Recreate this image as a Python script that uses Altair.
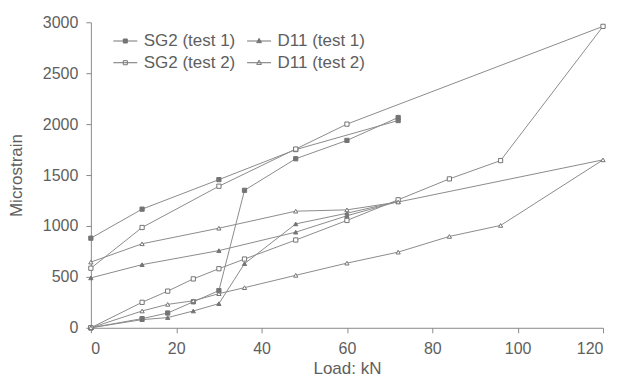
import altair as alt
import pandas as pd

# ---- data (loading then unloading order) ----
names = ["SG2 (test 1)", "SG2 (test 2)", "D11 (test 1)", "D11 (test 2)"]

sg2_t1_load = [0, 12, 18, 24, 30, 36, 48, 60, 72, 72, 48, 30, 12, 0]
sg2_t1_strain = [0, 90, 145, 255, 365, 1350, 1660, 1840, 2065, 2035, 1750, 1455, 1165, 880]

d11_t1_load = [0, 12, 18, 24, 30, 36, 48, 60, 72, 60, 48, 30, 12, 0]
d11_t1_strain = [0, 80, 100, 165, 237, 630, 1020, 1125, 1240, 1100, 939, 758, 620, 490]

sg2_t2_load = [0, 12, 18, 24, 30, 36, 48, 60, 72, 84, 96, 120, 60, 48, 30, 12, 0]
sg2_t2_strain = [0, 250, 360, 480, 580, 675, 862, 1054, 1257, 1462, 1642, 2960, 2000, 1755, 1390, 985, 585]

d11_t2_load = [0, 12, 18, 24, 30, 36, 48, 60, 72, 84, 96, 120, 72, 60, 48, 30, 12, 0]
d11_t2_strain = [0, 165, 230, 265, 335, 394, 515, 635, 743, 897, 1005, 1649, 1235, 1158, 1145, 978, 825, 645]

x_ticks = [0, 20, 40, 60, 80, 100, 120]
y_ticks = [0, 500, 1000, 1500, 2000, 2500, 3000]

rows = []
for name, loads, strains in [
    ("SG2 (test 1)", sg2_t1_load, sg2_t1_strain),
    ("D11 (test 1)", d11_t1_load, d11_t1_strain),
    ("SG2 (test 2)", sg2_t2_load, sg2_t2_strain),
    ("D11 (test 2)", d11_t2_load, d11_t2_strain),
]:
    for i, (l, s) in enumerate(zip(loads, strains)):
        rows.append({"series": name, "load": l, "strain": s, "seq": i})
df = pd.DataFrame(rows)

FONT = "Liberation Sans"
TXT = "#5e5e5e"
LINE = "#8c8c8c"
MARK = "#747474"

x_enc = alt.X("load:Q", scale=alt.Scale(domain=[0, 120], nice=False),
              axis=alt.Axis(values=x_ticks, title="Load: kN", format="d"))
y_enc = alt.Y("strain:Q", scale=alt.Scale(domain=[0, 3000], nice=False),
              axis=alt.Axis(values=y_ticks, title="Microstrain", format="d"))

base = alt.Chart(df)

lines = base.mark_line(color=LINE, strokeWidth=1).encode(
    x=x_enc, y=y_enc, detail="series:N", order="seq:Q"
)

fills = [MARK, "#ffffff", MARK, "#ffffff"]

points = base.mark_point(size=18, strokeWidth=1, opacity=1, color=MARK, filled=False).encode(
    x=x_enc, y=y_enc,
    shape=alt.Shape("series:N", scale=alt.Scale(domain=names,
                    range=["square", "square", "triangle-up", "triangle-up"]), legend=None),
    fill=alt.Fill("series:N", scale=alt.Scale(domain=names, range=fills), legend=None),
)

leg = alt.Legend(
    orient="none", legendX=22, legendY=6, columns=2, title=None,
    symbolSize=576, labelFont=FONT, labelFontSize=17, labelColor=TXT,
    labelOffset=6, columnPadding=9, rowPadding=1, padding=0,
    symbolStrokeWidth=1,
)
sq_path = "M-1,0H1M-0.17,-0.17H0.17V0.17H-0.17Z"
tri_path = "M-1,0H1M0,-0.22L0.2,0.14L-0.2,0.14Z"

legend_layer = base.transform_filter("false").mark_point(
    size=576, strokeWidth=1, opacity=1, filled=False
).encode(
    x=x_enc, y=y_enc,
    shape=alt.Shape("series:N", scale=alt.Scale(domain=names,
                    range=[sq_path, sq_path, tri_path, tri_path]), legend=leg),
    fill=alt.Fill("series:N", scale=alt.Scale(domain=names, range=fills), legend=leg),
    stroke=alt.Stroke("series:N", scale=alt.Scale(domain=names, range=[MARK] * 4), legend=leg),
)

chart = alt.layer(lines, points, legend_layer).resolve_scale(
    shape="independent", fill="independent", stroke="independent"
).properties(
    width=513, height=306,
    autosize=alt.AutoSizeParams(type="none"),
    padding={"left": 83, "top": 14, "right": 8, "bottom": 58},
).configure_view(stroke=None).configure_axis(
    grid=False, domainColor="#8a8a8a", tickColor="#8a8a8a", tickSize=5,
    labelFont=FONT, labelFontSize=16, labelColor=TXT,
    titleFont=FONT, titleFontSize=17, titleColor=TXT, titleFontWeight="normal",
).configure_axisX(labelPadding=8, titlePadding=4).configure_axisY(labelPadding=8, titlePadding=17)

chart.save("out.html", embed_options={"renderer": "svg", "actions": False})
